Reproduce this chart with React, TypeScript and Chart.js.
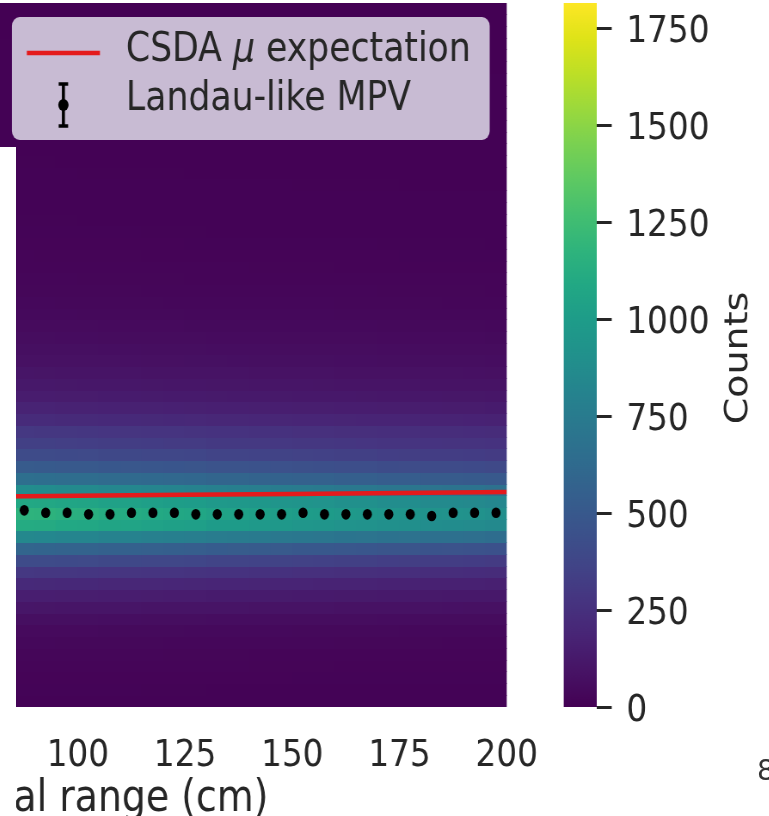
import React, { useEffect, useRef } from "react";
import { Chart, registerables } from "chart.js";

Chart.register(...registerables);

// ---------------- data ----------------
const X_MIN = 0;
const X_MAX = 200;
const X_TICK_STEP = 25;
const X_BIN = 5;
const Y_MIN = 0;
const Y_MAX = 6;
const Y_BIN = 0.1;
const COUNT_MAX = 1815;
const CB_TICK_STEP = 250;

const xBinCenters = [
  2.5, 7.5, 12.5, 17.5, 22.5, 27.5, 32.5, 37.5, 42.5, 47.5,
  52.5, 57.5, 62.5, 67.5, 72.5, 77.5, 82.5, 87.5, 92.5, 97.5,
  102.5, 107.5, 112.5, 117.5, 122.5, 127.5, 132.5, 137.5, 142.5, 147.5,
  152.5, 157.5, 162.5, 167.5, 172.5, 177.5, 182.5, 187.5, 192.5, 197.5,
];

// peak counts of each residual-range column
const columnPeakCounts = [
  1420, 1610, 1740, 1815, 1770, 1690, 1610, 1540, 1480, 1420,
  1370, 1330, 1290, 1260, 1230, 1205, 1185, 1170, 1165, 1148,
  1142, 1118, 1113, 1096, 1084, 1071, 1046, 1042, 1027, 1013,
  998, 992, 971, 968, 948, 944, 927, 921, 913, 897,
];

// relative vertical profile (rows of 0.1 from 0 to 6)
const rowShape = [
  0.010, 0.012, 0.015, 0.018, 0.022, 0.03, 0.04, 0.06, 0.09, 0.13,
  0.18, 0.25, 0.35, 0.50, 0.72, 0.95, 1.00, 0.93, 0.75, 0.56,
  0.44, 0.35, 0.29, 0.25, 0.19, 0.15, 0.12, 0.10, 0.085, 0.07,
  0.06, 0.05, 0.042, 0.035, 0.03, 0.025, 0.021, 0.018, 0.016, 0.014,
  0.012, 0.011, 0.010, 0.009, 0.008, 0.007, 0.0065, 0.006, 0.0055, 0.005,
  0.0045, 0.004, 0.0036, 0.0032, 0.0028, 0.0025, 0.0022, 0.002, 0.0018, 0.0015,
];

const mpvValues = [
  1.70, 1.69, 1.69, 1.68, 1.68, 1.68, 1.67, 1.67, 1.67, 1.67,
  1.66, 1.67, 1.66, 1.66, 1.66, 1.67, 1.66, 1.676, 1.656, 1.656,
  1.642, 1.642, 1.656, 1.656, 1.656, 1.642, 1.642, 1.642, 1.642, 1.642,
  1.656, 1.642, 1.642, 1.642, 1.642, 1.642, 1.628, 1.656, 1.656, 1.656,
];

const csdaX = [0, 25, 50, 75, 100, 125, 150, 175, 200];
const csdaY = [1.77, 1.78, 1.785, 1.792, 1.80, 1.808, 1.816, 1.824, 1.832];

const CSDA_LABEL = "CSDA μ expectation";
const MPV_LABEL = "Landau-like MPV";
const X_TITLE = "Residual range (cm)";
const CB_TITLE = "Counts";

// ---------------- styling / layout ----------------
const SQUEEZE = 0.86;
const CANVAS_W = 1452;
const CANVAS_H = 863;
const OFFSET_X = -480;
const OFFSET_Y = -37;
const FONT = "'DejaVu Sans'";
const TEXT = "#262626";
const TICK_FONT = 38;
const LEGEND_FONT = 40.3;
const TITLE_FONT = 44;
const CB_BAR_W = 38.4;

const VIRIDIS = [
  "#440154", "#471365", "#482475", "#463480", "#414487", "#3b528b", "#355f8d",
  "#2f6c8e", "#2a788e", "#25848e", "#21918c", "#1e9c89", "#22a884", "#2fb47c",
  "#44bf70", "#5ec962", "#7ad151", "#9bd93c", "#bddf26", "#dfe318", "#fde725",
];

function hexToRgb(h: string) {
  return [parseInt(h.slice(1, 3), 16), parseInt(h.slice(3, 5), 16), parseInt(h.slice(5, 7), 16)];
}
const VIRIDIS_RGB = VIRIDIS.map(hexToRgb);

function viridis(t: number) {
  const c = Math.max(0, Math.min(1, t)) * (VIRIDIS_RGB.length - 1);
  const i = Math.min(VIRIDIS_RGB.length - 2, Math.floor(c));
  const f = c - i;
  const a = VIRIDIS_RGB[i];
  const b = VIRIDIS_RGB[i + 1];
  const r = Math.round(a[0] + (b[0] - a[0]) * f);
  const g = Math.round(a[1] + (b[1] - a[1]) * f);
  const bl = Math.round(a[2] + (b[2] - a[2]) * f);
  return `rgb(${r},${g},${bl})`;
}

const heatmapPlugin = {
  id: "heatmap",
  beforeDatasetsDraw(chart: any) {
    const { ctx, chartArea } = chart;
    const xs = chart.scales.x;
    const ys = chart.scales.y;
    ctx.save();
    ctx.beginPath();
    ctx.rect(chartArea.left, chartArea.top, chartArea.right - chartArea.left, chartArea.bottom - chartArea.top);
    ctx.clip();
    for (let i = 0; i < xBinCenters.length; i++) {
      const x0 = Math.floor(xs.getPixelForValue(xBinCenters[i] - X_BIN / 2));
      const x1 = Math.ceil(xs.getPixelForValue(xBinCenters[i] + X_BIN / 2));
      for (let j = 0; j < rowShape.length; j++) {
        const yTop = Math.floor(ys.getPixelForValue(Y_MIN + (j + 1) * Y_BIN));
        const yBot = Math.ceil(ys.getPixelForValue(Y_MIN + j * Y_BIN));
        const count = columnPeakCounts[i] * rowShape[j];
        ctx.fillStyle = viridis(count / COUNT_MAX);
        ctx.fillRect(x0, yTop, x1 - x0, yBot - yTop);
      }
    }
    ctx.restore();
  },
};

const colorbarPlugin = {
  id: "colorbar",
  afterDraw(chart: any) {
    const { ctx } = chart;
    const cb = chart.scales.cb;
    const top = cb.getPixelForValue(COUNT_MAX);
    const bottom = cb.getPixelForValue(0);
    ctx.save();
    const grad = ctx.createLinearGradient(0, bottom, 0, top);
    VIRIDIS.forEach((c, i) => grad.addColorStop(i / (VIRIDIS.length - 1), c));
    ctx.fillStyle = grad;
    ctx.fillRect(cb.left - CB_BAR_W, top, CB_BAR_W, bottom - top);
    ctx.translate(cb.left + 165.5, (top + bottom) / 2 + 3);
    ctx.rotate(-Math.PI / 2);
    ctx.font = `${TICK_FONT}px ${FONT}`;
    ctx.fillStyle = TEXT;
    ctx.textAlign = "center";
    ctx.textBaseline = "middle";
    ctx.fillText(CB_TITLE, 0, 0);
    ctx.restore();
  },
};

const legendPlugin = {
  id: "boxLegend",
  afterDatasetsDraw(chart: any) {
    const { ctx, chartArea } = chart;
    const datasets = chart.data.datasets;
    const splitParts = (label: string) =>
      label.split(/(μ)/).filter((s) => s.length > 0).map((s) => ({ text: s, italic: s === "μ" }));
    const fontFor = (italic: boolean) => `${italic ? "italic " : ""}${LEGEND_FONT}px ${FONT}`;
    ctx.save();
    const widthOf = (label: string) =>
      splitParts(label).reduce((w, p) => {
        ctx.font = fontFor(p.italic);
        return w + ctx.measureText(p.text).width;
      }, 0);
    const maxW = Math.max(...datasets.map((d: any) => widthOf(d.label)));
    const padL = 17.4, handleLen = 85, textPad = 30.2, padR = 22;
    const boxW = padL + handleLen + textPad + maxW + padR;
    const boxH = 123;
    const right = chartArea.right - 19.8;
    const left = right - boxW;
    const top = chartArea.top + 14;
    ctx.fillStyle = "rgba(234,234,242,0.8)";
    ctx.beginPath();
    ctx.roundRect(left, top, boxW, boxH, 9);
    ctx.fill();

    datasets.forEach((d: any, i: number) => {
      const cy = top + 34 + i * 49;
      const hx = left + padL;
      if (d.type === "line") {
        ctx.strokeStyle = d.borderColor;
        ctx.lineWidth = d.borderWidth;
        ctx.beginPath();
        ctx.moveTo(hx, cy + 2);
        ctx.lineTo(hx + handleLen, cy + 2);
        ctx.stroke();
      } else {
        const mx = hx + handleLen / 2;
        const my = cy + 5;
        ctx.strokeStyle = d.backgroundColor;
        ctx.lineWidth = 3.5;
        ctx.beginPath();
        ctx.moveTo(mx, my - 21);
        ctx.lineTo(mx, my + 21);
        ctx.moveTo(mx - 5.5, my - 21);
        ctx.lineTo(mx + 5.5, my - 21);
        ctx.moveTo(mx - 5.5, my + 21);
        ctx.lineTo(mx + 5.5, my + 21);
        ctx.stroke();
        ctx.fillStyle = d.backgroundColor;
        ctx.beginPath();
        ctx.arc(mx, my, 6, 0, Math.PI * 2);
        ctx.fill();
      }
      let tx = hx + handleLen + textPad;
      ctx.fillStyle = TEXT;
      ctx.textBaseline = "middle";
      ctx.textAlign = "left";
      splitParts(d.label).forEach((p) => {
        ctx.font = fontFor(p.italic);
        ctx.fillText(p.text, tx, cy);
        tx += ctx.measureText(p.text).width;
      });
    });
    ctx.restore();
  },
};

export default function App() {
  const ref = useRef<HTMLCanvasElement>(null);

  useEffect(() => {
    if (!ref.current) return;
    const chart = new Chart(ref.current, {
      type: "scatter",
      data: {
        datasets: [
          {
            type: "line",
            label: CSDA_LABEL,
            data: csdaX.map((x, i) => ({ x, y: csdaY[i] })),
            borderColor: "#e41a1c",
            borderWidth: 4.5,
            pointRadius: 0,
            fill: false,
            tension: 0,
            xAxisID: "x",
            yAxisID: "y",
          } as any,
          {
            type: "scatter",
            label: MPV_LABEL,
            data: xBinCenters.map((x, i) => ({ x, y: mpvValues[i] })),
            backgroundColor: "#000000",
            borderWidth: 0,
            pointRadius: 5.3,
            xAxisID: "x",
            yAxisID: "y",
          } as any,
        ],
      },
      options: {
        responsive: false,
        maintainAspectRatio: false,
        animation: false,
        events: [],
        layout: { padding: { top: 40, left: 0, right: 0, bottom: 0 } },
        plugins: {
          legend: { display: false },
          tooltip: { enabled: false },
        },
        scales: {
          x: {
            type: "linear",
            position: "bottom",
            min: X_MIN,
            max: X_MAX,
            ticks: {
              stepSize: X_TICK_STEP,
              includeBounds: false,
              color: TEXT,
              font: { family: FONT, size: TICK_FONT },
              padding: 26,
              maxRotation: 0,
              callback: (v: any) => String(v),
            },
            grid: { display: false, drawTicks: false },
            border: { display: false },
            title: {
              display: true,
              text: X_TITLE,
              color: TEXT,
              font: { family: FONT, size: TITLE_FONT },
              padding: { top: 0, bottom: 0 },
            },
            afterFit: (s: any) => {
              s.height = 119;
            },
          },
          y: {
            type: "linear",
            position: "left",
            min: Y_MIN,
            max: Y_MAX,
            ticks: { color: TEXT, font: { family: FONT, size: TICK_FONT }, includeBounds: false },
            grid: { display: false },
            border: { display: false },
            afterFit: (s: any) => {
              s.width = 150;
            },
          },
          spacer: {
            type: "linear",
            position: "right",
            weight: 0,
            display: true,
            ticks: { display: false },
            grid: { display: false, drawTicks: false },
            border: { display: false },
            afterFit: (s: any) => {
              s.width = 104.65;
            },
          },
          cb: {
            type: "linear",
            position: "right",
            weight: 1,
            min: 0,
            max: COUNT_MAX,
            ticks: {
              stepSize: CB_TICK_STEP,
              includeBounds: false,
              color: TEXT,
              font: { family: FONT, size: TICK_FONT },
              padding: 17,
              labelOffset: 4,
              callback: (v: any) => String(v),
            },
            grid: {
              display: true,
              drawOnChartArea: false,
              drawTicks: true,
              tickLength: 17.4,
              tickWidth: 3,
              tickColor: TEXT,
            },
            border: { display: false },
            afterFit: (s: any) => {
              s.width = 200;
            },
          },
        } as any,
      },
      plugins: [heatmapPlugin, legendPlugin, colorbarPlugin],
    });
    return () => chart.destroy();
  }, []);

  return (
    <div
      style={{
        position: "fixed",
        left: 0,
        top: 0,
        width: 769,
        height: 816,
        overflow: "hidden",
        background: "#ffffff",
      }}
    >
      <div
        style={{
          position: "absolute",
          left: OFFSET_X,
          top: OFFSET_Y,
          width: CANVAS_W,
          height: CANVAS_H,
          transform: `scaleX(${SQUEEZE})`,
          transformOrigin: "0 0",
        }}
      >
        <canvas ref={ref} width={CANVAS_W} height={CANVAS_H} style={{ display: "block", width: CANVAS_W, height: CANVAS_H }} />
      </div>
      <div style={{ position: "absolute", left: 0, top: 147, width: 16, height: 700, background: "#ffffff" }} />
      <div style={{ position: "absolute", left: 757, top: 754, fontFamily: FONT, fontSize: 28, color: "#333333" }}>8</div>
    </div>
  );
}
